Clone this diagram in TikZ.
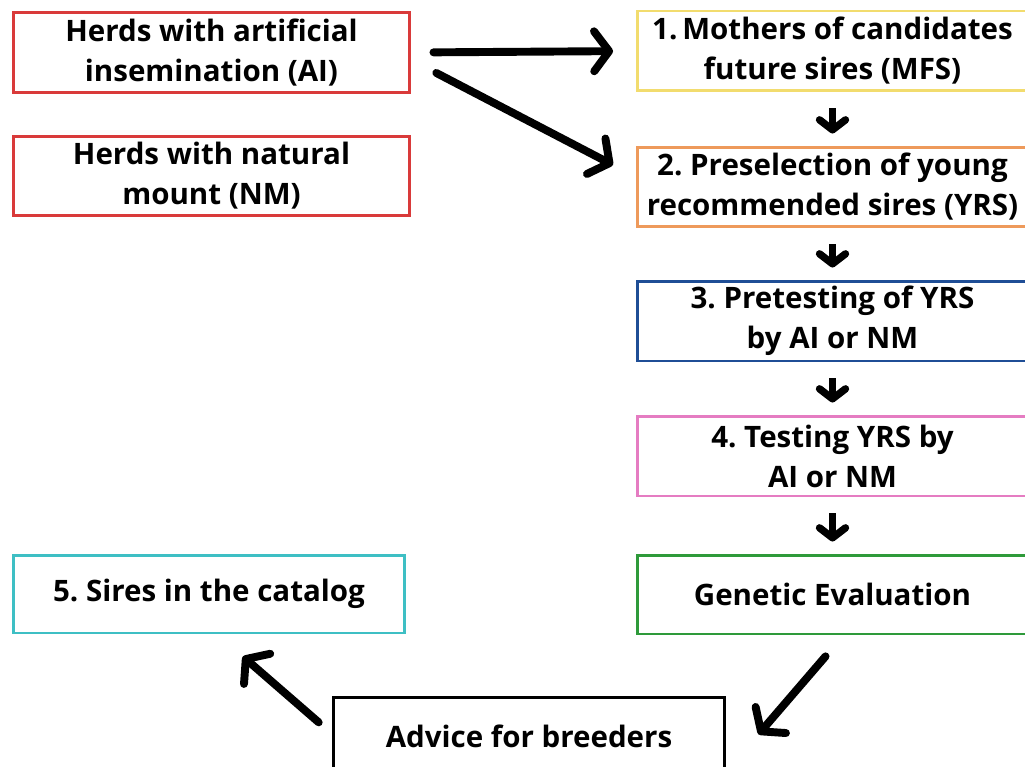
\documentclass[tikz,border=0pt]{standalone}
\usepackage{fontspec}
\setmainfont{Open Sans}
\usetikzlibrary{arrows.meta}
\frenchspacing

\definecolor{herdred}{HTML}{D93A3A}
\definecolor{mfsyellow}{HTML}{F2DC6E}
\definecolor{yrsorange}{HTML}{EE9A5B}
\definecolor{preblue}{HTML}{1F4E96}
\definecolor{testpink}{HTML}{E57CC2}
\definecolor{evalgreen}{HTML}{2E9A3A}
\definecolor{catcyan}{HTML}{3EBFC4}

\begin{document}
\begin{tikzpicture}[
    x=0.02cm, y=-0.02cm,
    box/.style={draw=#1, line width=1.7pt, minimum width=7.8cm, minimum height=1.6cm,
                inner sep=0pt, align=center, font=\fontsize{16.8}{22.8}\selectfont\bfseries},
    bigarr/.style={line width=4.5pt, line cap=round,
                   -{Straight Barb[round, length=0.3cm, width=0.8cm]}},
    downarr/.style={line width=4.2pt, shorten <=0.32cm, shorten >=0.24cm,
                    -{Straight Barb[round, length=0.2cm, width=0.52cm]}}
  ]
  \useasboundingbox (0,0) rectangle (1025,767);

  \node[box=herdred, minimum width=7.94cm] (ai) at (211.5,52.5) {Herds with artificial\\insemination (AI)};
  \node[box=herdred, minimum width=7.94cm] (nm) at (211.5,176) {Herds with natural\\mount (NM)};

  \node[box=mfsyellow] (mfs) at (832.5,51) {1.\,Mothers of candidates\\future sires (MFS)};
  \node[box=yrsorange] (yrs) at (832.5,187) {2. Preselection of young\\recommended sires (YRS)};
  \node[box=preblue] (pre) at (832.5,321) {3. Pretesting of YRS\\by AI or NM};
  \node[box=testpink] (tst) at (832.5,456) {4. Testing YRS by\\AI or NM};
  \node[box=evalgreen, minimum height=1.58cm] (gen) at (832.5,594.5) {Genetic Evaluation};

  \node[box=catcyan, minimum width=7.84cm, minimum height=1.56cm] (cat) at (209,594) {5. Sires in the catalog};
  \node[box=black, minimum width=7.84cm, minimum height=1.56cm] (adv) at (529,736) {Advice for breeders};

  % from the AI herds
  \draw[bigarr, shorten <=0.44cm, shorten >=0.46cm] (ai.east) -- (mfs.west);
  \draw[bigarr, shorten <=0.56cm, shorten >=0.52cm]
    ([yshift=-0.15cm]ai.east) -- ([yshift=0.2cm]yrs.west);

  % steps down the right column
  \draw[downarr] (mfs.south) -- (yrs.north);
  \draw[downarr] (yrs.south) -- (pre.north);
  \draw[downarr] (pre.south) -- (tst.north);
  \draw[downarr] (tst.south) -- (gen.north);

  % evaluation back to the catalog
  \draw[bigarr, shorten <=0.55cm, shorten >=0.98cm]
    ([xshift=0.22cm]gen.south) -- ([yshift=0.1cm]adv.south east);
  \draw[bigarr, shorten <=0.34cm, shorten >=0.67cm]
    ([yshift=0.05cm]adv.west) -- ([xshift=0.17cm]cat.south);

\end{tikzpicture}
\end{document}
